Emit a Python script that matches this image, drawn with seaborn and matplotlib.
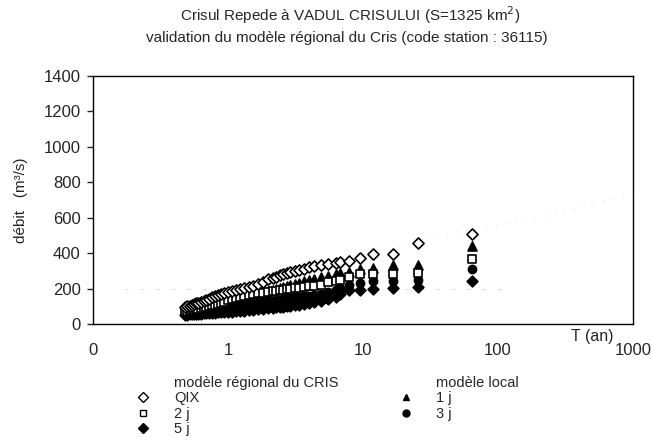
import matplotlib
matplotlib.use("Agg")
import matplotlib.pyplot as plt
import seaborn as sns
import pandas as pd
from matplotlib.lines import Line2D

# période de retour (ans) des débits observés classés
T_obs = [0.48, 0.50, 0.52, 0.54, 0.56, 0.58, 0.60, 0.63, 0.66, 0.69,
         0.72, 0.76, 0.80, 0.84, 0.89, 0.94, 1.00, 1.07, 1.14, 1.22,
         1.31, 1.42, 1.54, 1.68, 1.82, 1.98, 2.16, 2.28, 2.41, 2.55,
         2.72, 2.90, 3.11, 3.35, 3.64, 3.97, 4.37, 4.87, 5.49, 6.30,
         6.76, 7.9, 9.5, 11.9, 16.6, 25.5, 63.8]

# modèle régional du CRIS
q_qix = [98, 101, 104, 108, 112, 116, 120, 126, 132, 138,
         143, 150, 156, 162, 168, 174, 180, 186, 191, 197,
         202, 208, 215, 225, 238, 252, 262, 268, 274, 280,
         286, 292, 299, 306, 313, 319, 326, 333, 340, 347,
         352, 358, 375, 393, 395, 459, 508]
q_2j = [72, 74, 76, 78, 80, 82, 84, 88, 92, 96,
        100, 105, 110, 115, 121, 127, 133, 139, 145, 151,
        157, 163, 168, 173, 177, 181, 185, 188, 191, 194,
        197, 200, 203, 206, 210, 213, 216, 222, 236, 245,
        248, 267, 280, 282, 282, 290, 367]
q_5j = [52, 53, 54, 55, 56, 57, 58, 59, 60, 61,
        62, 63, 64, 65, 66, 67, 68, 70, 72, 74,
        76, 78, 80, 83, 86, 89, 92, 94, 96, 98,
        100, 103, 106, 109, 113, 117, 122, 130, 140, 150,
        169, 192, 194, 197, 201, 211, 243]

# modèle local
q_1j = [78, 80, 83, 86, 88, 91, 93, 97, 101, 105,
        109, 114, 119, 124, 129, 134, 140, 145, 150, 155,
        160, 165, 170, 175, 180, 186, 192, 197, 202, 207,
        213, 219, 226, 233, 240, 248, 256, 264, 272, 282,
        290, 295, 309, 314, 333, 333, 442]
q_3j = [62, 63, 65, 66, 67, 69, 70, 72, 74, 76,
        78, 81, 84, 86, 89, 92, 95, 98, 101, 104,
        107, 111, 114, 118, 122, 128, 132, 135, 138, 141,
        144, 148, 151, 154, 157, 160, 164, 169, 178, 190,
        205, 222, 232, 240, 245, 250, 310]

# courbes du modèle (à peine visibles sur l'original)
T_curve = [0.5, 1, 2, 5, 10, 20, 50, 100, 200, 500, 1000]
q_curve_qix = [88, 160, 250, 330, 380, 440, 520, 560, 600, 680, 730]
T_seuil = [0.17, 115]
q_seuil = [200, 200]

df = pd.DataFrame({
    "T": T_obs * 5,
    "debit": q_qix + q_2j + q_5j + q_1j + q_3j,
    "serie": ["QIX"] * len(T_obs) + ["2 j"] * len(T_obs) + ["5 j"] * len(T_obs)
             + ["1 j"] * len(T_obs) + ["3 j"] * len(T_obs),
})

sns.set_style("white")
plt.rcParams["font.family"] = ["Liberation Sans", "DejaVu Sans"]

fig = plt.figure(figsize=(6.52, 4.40), dpi=100)
ax = fig.add_axes([93 / 652, 1 - 324 / 440, 540 / 652, 248 / 440])

ax.plot(T_curve, q_curve_qix, ls=(0, (1, 8)), color="#dcdcdc", lw=0.8)
ax.plot(T_seuil, q_seuil, ls=(0, (4, 10)), color="#e2e2e2", lw=0.8)

styles = {
    "1 j": dict(marker="^", color="black", edgecolor="black", s=42),
    "3 j": dict(marker="o", color="black", edgecolor="black", s=34),
    "5 j": dict(marker="D", color="black", edgecolor="black", s=30),
    "2 j": dict(marker="s", color="white", edgecolor="black", s=30),
    "QIX": dict(marker="D", color="white", edgecolor="black", s=32),
}
for nom, st in styles.items():
    sns.scatterplot(data=df[df["serie"] == nom], x="T", y="debit", ax=ax,
                    linewidth=1.2, legend=False, zorder=3, **st)

ax.set_xscale("log")
ax.set_xlim(0.1, 1000)
ax.set_ylim(0, 1400)
ax.set_xticks([0.1, 1, 10, 100, 1000])
ax.set_xticklabels(["0", "1", "10", "100", "1000"])
ax.set_yticks(range(0, 1401, 200))
ax.minorticks_off()
ax.tick_params(axis="x", length=0, pad=14, labelsize=12)
ax.tick_params(axis="y", length=4, width=1, direction="out", pad=5, labelsize=12, left=True)
for sp in ax.spines.values():
    sp.set_color("black")
    sp.set_linewidth(1.0)

ax.set_xlabel("")
ax.set_ylabel("débit   (m³/s)", fontsize=11)
ax.yaxis.set_label_coords(-0.12, 0.5)
ax.text(592 / 652, 1 - 336 / 440, "T (an)", transform=fig.transFigure,
        ha="center", va="center", fontsize=11.5)

fig.text(350 / 652, 1 - 15 / 440, "Crisul Repede à VADUL CRISULUI (S=1325 km$^2$)",
         ha="center", va="center", fontsize=11)
fig.text(347 / 652, 1 - 38 / 440,
         "validation du modèle régional du Cris (code station : 36115)",
         ha="center", va="center", fontsize=11)

vide = Line2D([], [], linestyle="none", marker=None)
def poignee(nom):
    st = styles[nom]
    return Line2D([], [], linestyle="none", marker=st["marker"], markersize=5,
                  markerfacecolor=st["color"], markeredgecolor="black", markeredgewidth=1)

handles = [vide, poignee("QIX"), poignee("2 j"), poignee("5 j"),
           vide, poignee("1 j"), poignee("3 j"), vide]
labels = ["modèle régional du CRIS", "QIX", "2 j", "5 j",
          "modèle local", "1 j", "3 j", ""]
fig.legend(handles, labels, loc="upper left", bbox_to_anchor=(136 / 652, 1 - 376 / 440),
           ncol=2, frameon=False, fontsize=10.5, handlelength=1.0, handletextpad=1.6,
           labelspacing=0.1, columnspacing=4.1, borderpad=0, borderaxespad=0)

fig.savefig("out.png", dpi=100)
